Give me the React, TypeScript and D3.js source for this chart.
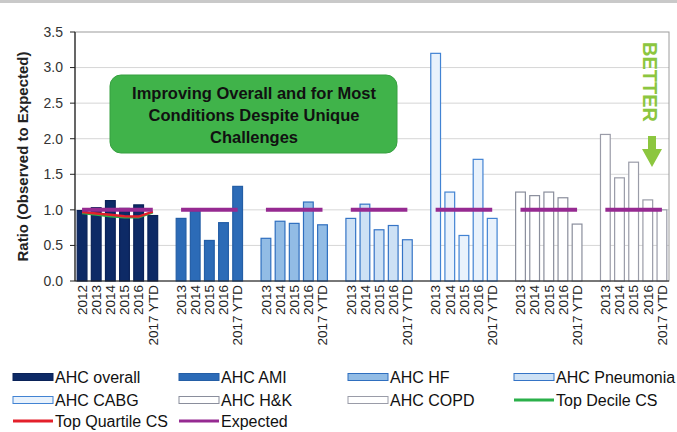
import React from 'react';
import * as d3 from 'd3';

const groupNames = ['AHC overall', 'AHC AMI', 'AHC HF', 'AHC Pneumonia', 'AHC CABG', 'AHC H&K', 'AHC COPD'];
const overallYears = ['2012', '2013', '2014', '2015', '2016', '2017 YTD'];
const conditionYears = ['2013', '2014', '2015', '2016', '2017 YTD'];
const overallValues = [0.99, 1.03, 1.13, 1.02, 1.07, 0.92];
const amiValues = [0.88, 0.98, 0.57, 0.82, 1.33];
const hfValues = [0.6, 0.84, 0.81, 1.11, 0.79];
const pneumoniaValues = [0.88, 1.08, 0.72, 0.78, 0.58];
const cabgValues = [3.2, 1.25, 0.64, 1.71, 0.88];
const hkValues = [1.25, 1.2, 1.25, 1.17, 0.8];
const copdValues = [2.06, 1.45, 1.67, 1.14, 1.0];
const topDecileCS = [0.955, 0.935, 0.91, 0.895, 0.895, 0.965];
const topQuartileCS = [0.97, 0.95, 0.93, 0.91, 0.905, 0.975];
const expectedValue = 1.0;
const yTicks = [0, 0.5, 1, 1.5, 2, 2.5, 3, 3.5];

const groupValues = [overallValues, amiValues, hfValues, pneumoniaValues, cabgValues, hkValues, copdValues];
const groupStyles = [
  { fill: '#0d2a66', stroke: '#0a2258' },
  { fill: '#2c6bb7', stroke: '#245ea6' },
  { fill: '#92bce5', stroke: '#2f6fbf' },
  { fill: '#cde1f5', stroke: '#3574c6' },
  { fill: '#e9f2fc', stroke: '#4283d3' },
  { fill: '#ffffff', stroke: '#8a8e9c' },
  { fill: '#ffffff', stroke: '#9a9ca8' },
];

const W = 677, H = 432;
const left = 75, right = 669, top = 32, bottom = 281;
const FONT = 'Liberation Sans, Arial, Helvetica, sans-serif';

type Slot = { key: string; group: number; year: string; value: number | null };

export default function App() {
  const slots: Slot[] = [];
  groupValues.forEach((vals, g) => {
    if (g > 0) slots.push({ key: `gap${g}`, group: -1, year: '', value: null });
    const yrs = g === 0 ? overallYears : conditionYears;
    vals.forEach((v, i) => slots.push({ key: `${g}-${yrs[i]}`, group: g, year: yrs[i], value: v }));
  });

  const x = d3.scaleBand<string>().domain(slots.map(s => s.key)).range([left, right]).paddingInner(0.24).paddingOuter(0.12);
  const y = d3.scaleLinear().domain([0, 3.5]).range([bottom, top]);
  const bw = x.bandwidth();
  const cx = (k: string) => (x(k) as number) + bw / 2;

  const overallKeys = overallYears.map(yr => `0-${yr}`);
  const lineGen = d3.line<number>().x((_, i) => cx(overallKeys[i])).y(d => y(d)).curve(d3.curveLinear);

  const legendItems = [
    { label: 'AHC overall', type: 'bar', s: groupStyles[0] },
    { label: 'AHC AMI', type: 'bar', s: groupStyles[1] },
    { label: 'AHC HF', type: 'bar', s: groupStyles[2] },
    { label: 'AHC Pneumonia', type: 'bar', s: groupStyles[3] },
    { label: 'AHC CABG', type: 'bar', s: groupStyles[4] },
    { label: 'AHC H&K', type: 'bar', s: groupStyles[5] },
    { label: 'AHC COPD', type: 'bar', s: groupStyles[6] },
    { label: 'Top Decile CS', type: 'line', s: { fill: '#2bb04a', stroke: '#2bb04a' } },
    { label: 'Top Quartile CS', type: 'line', s: { fill: '#e3202b', stroke: '#e3202b' } },
    { label: 'Expected', type: 'line', s: { fill: '#962a91', stroke: '#962a91' } },
  ];
  const legCols = [13, 179, 348, 514];
  const legRows = [377, 400, 421];

  return (
    <svg width={W} height={H} style={{ position: 'absolute', left: 0, top: 0, background: '#fff' }} fontFamily={FONT}>
      <rect x={0} y={0} width={W} height={H} fill="#fff" />
      <rect x={0} y={0} width={W} height={3} fill="#c9c9c9" />
      {/* gridlines */}
      {yTicks.filter(t => t > 0 && t < 3.5).map(t => (
        <line key={t} x1={left} x2={right} y1={y(t)} y2={y(t)} stroke="#d6d6d6" strokeWidth={1} />
      ))}
      {/* plot frame */}
      <rect x={left} y={top} width={right - left} height={bottom - top} fill="none" stroke="#9c9c9c" strokeWidth={1} />
      {/* bars */}
      {slots.filter(s => s.value !== null).map(s => {
        const st = groupStyles[s.group];
        const yv = y(s.value as number);
        return (
          <rect key={s.key} x={(x(s.key) as number) + 0.5} y={yv} width={bw - 1} height={bottom - yv}
            fill={st.fill} stroke={st.stroke} strokeWidth={1.2} />
        );
      })}
      {/* top decile / quartile */}
      <path d={lineGen(topDecileCS) || ''} fill="none" stroke="#2bb04a" strokeWidth={2.5} />
      <path d={lineGen(topQuartileCS) || ''} fill="none" stroke="#e3202b" strokeWidth={2.5} />
      {/* expected */}
      {groupValues.map((vals, g) => {
        const yrs = g === 0 ? overallYears : conditionYears;
        const k0 = `${g}-${yrs[0]}`, k1 = `${g}-${yrs[vals.length - 1]}`;
        return <line key={g} x1={cx(k0)} x2={cx(k1)} y1={y(expectedValue)} y2={y(expectedValue)} stroke="#962a91" strokeWidth={4} />;
      })}
      {/* axes */}
      <line x1={left} x2={left} y1={top} y2={bottom} stroke="#222" strokeWidth={1.2} />
      <line x1={left} x2={right} y1={bottom} y2={bottom} stroke="#222" strokeWidth={1.2} />
      {yTicks.map(t => (
        <g key={t}>
          <line x1={left - 5} x2={left} y1={y(t)} y2={y(t)} stroke="#222" />
          <text x={63} y={y(t)} dy="0.35em" textAnchor="end" fontSize={14} fill="#333">{t.toFixed(1)}</text>
        </g>
      ))}
      <text transform={`translate(23,${(top + bottom) / 2}) rotate(-90)`} textAnchor="middle" dy="0.35em" fontSize={15} fontWeight="bold" fill="#222">Ratio (Observed to Expected)</text>
      {/* x labels */}
      {slots.filter(s => s.value !== null).map(s => (
        <text key={s.key} transform={`translate(${cx(s.key)},${bottom + 4}) rotate(-90)`} textAnchor="end" dy="0.35em" fontSize={13.5} fill="#222">{s.year}</text>
      ))}
      {/* annotation box */}
      <rect x={110} y={75} width={287} height={78} rx={11} ry={11} fill="#40b34a" stroke="#36a040" strokeWidth={1} />
      {['Improving Overall and for Most', 'Conditions Despite Unique', 'Challenges'].map((t, i) => (
        <text key={t} x={254} y={93 + i * 22} dy="0.35em" textAnchor="middle" fontSize={16.5} fontWeight="bold" fill="#111">{t}</text>
      ))}
      {/* BETTER */}
      <text transform="translate(643,42) rotate(90)" fontSize={20} fontWeight="bold" fill="#8cc63f" textAnchor="start">BETTER</text>
      <path d="M648,136 L656,136 L656,149 L662,149 L652,167 L642,149 L648,149 Z" fill="#8cc63f" />
      {/* legend */}
      {legendItems.map((it, i) => {
        const cxL = legCols[i % 4];
        const cyL = legRows[Math.floor(i / 4)];
        return (
          <g key={it.label}>
            {it.type === 'bar'
              ? <rect x={cxL} y={cyL - 3.5} width={40} height={7} fill={it.s.fill} stroke={it.s.stroke} strokeWidth={1} />
              : <line x1={cxL} x2={cxL + 40} y1={cyL} y2={cyL} stroke={it.s.stroke} strokeWidth={3} />}
            <text x={cxL + 42} y={cyL} dy="0.35em" fontSize={16} fill="#111">{it.label}</text>
          </g>
        );
      })}
    </svg>
  );
}
